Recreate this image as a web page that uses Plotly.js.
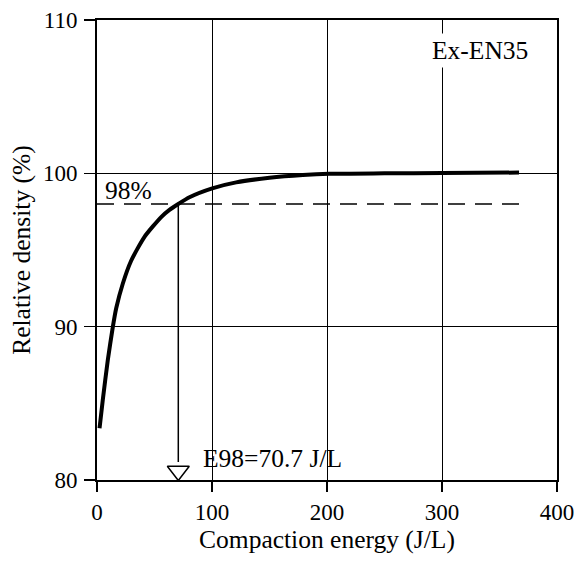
<!DOCTYPE html>
<html>
<head>
<meta charset="utf-8">
<script src="https://cdn.plot.ly/plotly-3.0.1.min.js"></script>
<style>html,body{margin:0;padding:0;background:#fff;}#chart{width:576px;height:561px;}</style>
</head>
<body>
<div id="chart"></div>
<script>
// Compaction curve
const energy = [2.2, 5.0, 9.4, 13.7, 16.7, 22.4, 29.7, 41.3, 55.8, 63.0, 70.7, 80.4, 100.2, 121, 150, 179, 202, 250, 300, 367];
const density = [83.37, 85.2, 87.82, 89.95, 91.2, 92.8, 94.3, 95.86, 97.15, 97.62, 98.0, 98.44, 99.02, 99.41, 99.71, 99.89, 99.97, 100.0, 100.02, 100.05];
const targetDensity = 98;
const e98 = 70.7;
const dashEnd = 367;
const xTicks = [0, 100, 200, 300, 400];
const yTicks = [80, 90, 100, 110];
const sampleName = "Ex-EN35";
const e98Label = "E98=70.7 J/L";
const targetLabel = "98%";

const font = {family: "Liberation Serif, Times New Roman, serif", color: "#000"};
const FS = 23;    // tick labels
const FT = 25.5;  // titles and notes
const yMin = 80, yMax = 110;
const plotH = 460;
const pxToY = p => p * (yMax - yMin) / plotH;

const traces = [
  {x: energy, y: density, mode: "lines", line: {color: "#000", width: 4, shape: "spline", smoothing: 0.6}, hoverinfo: "skip"},
  {x: [0, dashEnd], y: [targetDensity, targetDensity], mode: "lines", line: {color: "#000", width: 1.5, dash: "17px,10px"}},
  {x: [e98, e98], y: [targetDensity, yMin + pxToY(18)], mode: "lines", line: {color: "#000", width: 1.5}},
  {x: [e98], y: [yMin + pxToY(9)], mode: "markers", marker: {symbol: "triangle-down-open", size: 19, color: "#000", line: {width: 1.5, color: "#000"}}, cliponaxis: false}
];

const layout = {
  width: 576, height: 561,
  margin: {l: 97, r: 19, t: 20, b: 81},
  paper_bgcolor: "#fff", plot_bgcolor: "#fff",
  showlegend: false,
  font: Object.assign({size: FS}, font),
  xaxis: {
    range: [0, 400], tickvals: xTicks, ticktext: xTicks.map(String),
    ticks: "outside", ticklen: 10, tickwidth: 1.2, tickcolor: "#000",
    showgrid: true, gridcolor: "#000", gridwidth: 1,
    showline: true, linecolor: "#000", linewidth: 2, mirror: true,
    zeroline: false,
    tickfont: Object.assign({size: FS}, font),
    title: {text: "Compaction energy (J/L)", font: Object.assign({size: FT}, font), standoff: 5}
  },
  yaxis: {
    range: [yMin, yMax], tickvals: yTicks, ticktext: yTicks.map(String),
    ticks: "outside", ticklen: 11, tickwidth: 1.2, tickcolor: "#000",
    ticklabelstandoff: 2,
    showgrid: true, gridcolor: "#000", gridwidth: 1,
    showline: true, linecolor: "#000", linewidth: 2, mirror: true,
    zeroline: false,
    tickfont: Object.assign({size: FS}, font),
    title: {text: "Relative density (%)", font: Object.assign({size: FT}, font), standoff: 5}
  },
  annotations: [
    {x: 333, y: 108.04, xref: "x", yref: "y", text: sampleName, showarrow: false,
     font: Object.assign({size: FT}, font), bgcolor: "#fff", borderpad: 2},
    {x: 5, y: targetDensity, xref: "x", yref: "y", text: targetLabel, showarrow: false,
     xanchor: "left", yanchor: "bottom", yshift: -3, font: Object.assign({size: FT}, font)},
    {x: 90.5, y: yMin + pxToY(22), xref: "x", yref: "y", text: e98Label, showarrow: false,
     xanchor: "left", yanchor: "middle", font: Object.assign({size: FT}, font)}
  ]
};

Plotly.newPlot("chart", traces, layout, {staticPlot: true});
</script>
</body>
</html>
